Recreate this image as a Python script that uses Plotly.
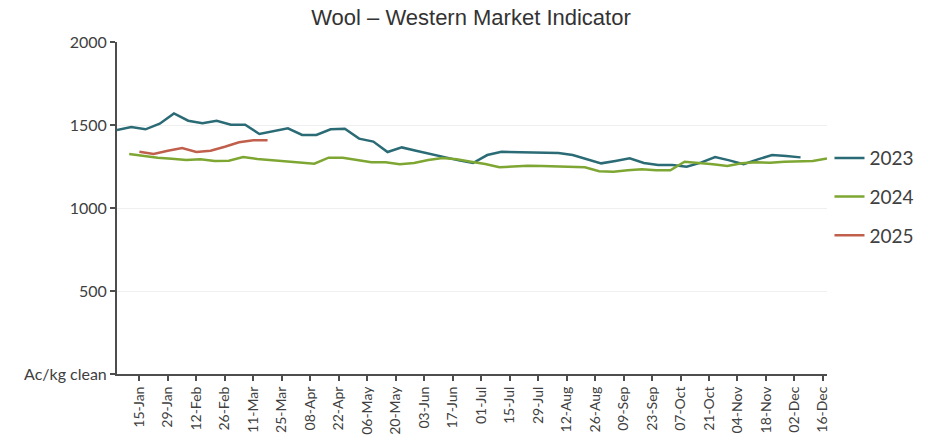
import pandas as pd
import plotly.graph_objects as go

# Weekly sale dates (plotted on a common calendar year) and indicator values (Ac/kg clean)
start_2023 = "2024-01-04"
values_2023 = [1470, 1488, 1474, 1508, 1570, 1526, 1510, 1526, 1502, 1502,
               1446, 1462, 1480, 1440, 1440, 1474, 1478, 1418, 1400, 1337,
               1365, 1345, 1325, 1305, 1287, 1271, 1319, 1339, 1337, 1335,
               1333, 1331, 1319, 1293, 1269, 1283, 1299, 1271, 1259, 1259,
               1249, 1273, 1307, 1287, 1264, 1293, 1319, 1313, 1305]

start_2024 = "2024-01-10"
values_2024 = [1325, 1313, 1303, 1296, 1289, 1293, 1283, 1285, 1307, 1295,
               1287, 1281, 1275, 1267, 1303, 1303, 1289, 1275, 1275, 1263,
               1271, 1289, 1301, 1293, 1279, 1265, 1245, 1249, 1255, 1253,
               1251, 1249, 1245, 1221, 1219, 1227, 1233, 1227, 1227, 1279,
               1273, 1263, 1253, 1269, 1275, 1273, 1279, 1283, 1283, 1299]

start_2025 = "2024-01-15"
values_2025 = [1339, 1325, 1345, 1361, 1337, 1345, 1369, 1396, 1408, 1408]

series_names = ["2023", "2024", "2025"]
series_colors = ["#2A6B75", "#7EA632", "#C0604C"]

y_tickvals = [0, 500, 1000, 1500, 2000]
y_ticktext = ["Ac/kg clean", "500", "1000", "1500", "2000"]

title_text = "Wool \u2013 Western Market Indicator"

fig = go.Figure()
for name, start, vals, col in zip(series_names,
                                  [start_2023, start_2024, start_2025],
                                  [values_2023, values_2024, values_2025],
                                  series_colors):
    dates = pd.date_range(start, periods=len(vals), freq="7D")
    fig.add_trace(go.Scatter(x=dates, y=vals, mode="lines", name=name,
                             legendgroup=name,
                             line=dict(color=col, width=2.5)))

x_tick_font = dict(family="Lato, Carlito, sans-serif", size=14, color="#404040")
y_tick_font = dict(family="Lato, Carlito, sans-serif", size=16, color="#404040")

fig.update_layout(
    width=946, height=443,
    margin=dict(l=117, r=119, t=42, b=69),
    paper_bgcolor="white", plot_bgcolor="white",
    title=dict(text=title_text, x=0.4979, xanchor="center", y=0.9616, yanchor="middle",
               font=dict(family="Liberation Sans, Arial, sans-serif", size=22, color="#333333")),
    showlegend=True,
    legend=dict(x=1.0035, xanchor="left", y=0.533, yanchor="middle",
                font=dict(family="Lato, Carlito, sans-serif", size=19, color="#404040"),
                tracegroupgap=11, itemwidth=30, bgcolor="rgba(0,0,0,0)"),
    xaxis=dict(type="date", range=["2024-01-04", "2024-12-18"],
               tick0="2024-01-15", dtick=14 * 24 * 3600 * 1000,
               tickformat="%d-%b", tickangle=-90, automargin=False,
               showline=True, linecolor="#4D4D4D", linewidth=2,
               ticks="outside", ticklen=5, tickcolor="#4D4D4D", tickwidth=1.5,
               showgrid=False, zeroline=False, tickfont=x_tick_font),
    yaxis=dict(range=[0, 2000], tickvals=y_tickvals, ticktext=y_ticktext,
               automargin=False,
               showline=True, linecolor="#4D4D4D", linewidth=2,
               ticks="outside", ticklen=5, tickcolor="#4D4D4D", tickwidth=1.5,
               showgrid=True, gridcolor="#EFEFEF", gridwidth=1,
               zeroline=False, tickfont=y_tick_font),
)

fig.write_html("out.html", config={"displayModeBar": False},
               post_script="document.body.style.margin='0';")
